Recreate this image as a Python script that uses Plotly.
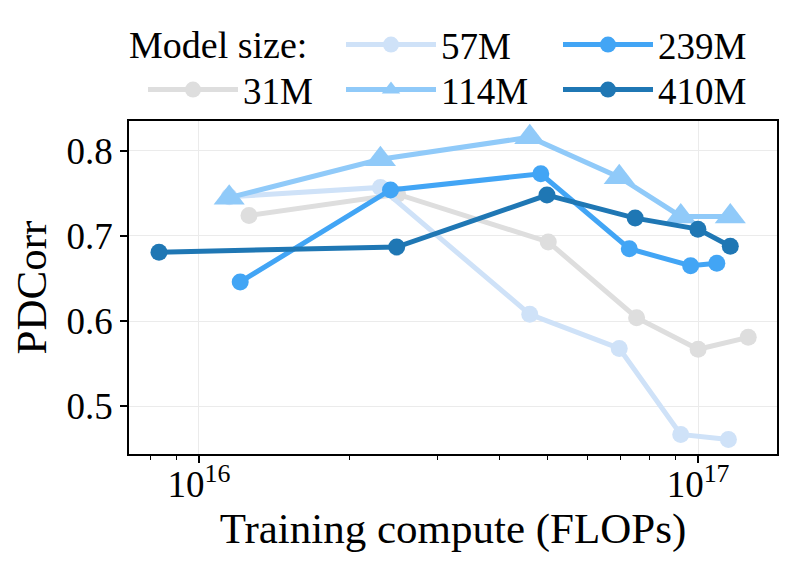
import plotly.graph_objects as go

# training compute (FLOPs) and PDCorr per model size
model_sizes = ["31M", "57M", "114M", "239M", "410M"]

flops_31m = [1.26e16, 2.50e16, 5.01e16, 7.53e16, 1.00e17, 1.26e17]
pdcorr_31m = [0.724, 0.749, 0.693, 0.604, 0.567, 0.581]

flops_57m = [1.15e16, 2.31e16, 4.60e16, 6.95e16, 9.23e16, 1.15e17]
pdcorr_57m = [0.746, 0.757, 0.608, 0.568, 0.467, 0.461]

flops_114m = [1.15e16, 2.31e16, 4.60e16, 6.95e16, 9.23e16, 1.16e17]
pdcorr_114m = [0.745, 0.790, 0.816, 0.769, 0.723, 0.723]

flops_239m = [1.21e16, 2.42e16, 4.84e16, 7.28e16, 9.66e16, 1.09e17]
pdcorr_239m = [0.646, 0.754, 0.773, 0.685, 0.665, 0.668]

flops_410m = [8.32e15, 2.49e16, 4.98e16, 7.48e16, 9.99e16, 1.16e17]
pdcorr_410m = [0.681, 0.687, 0.748, 0.721, 0.708, 0.688]

x_tickvals = [1e16, 1e17]
x_ticktext = ["10<sup>16</sup>", "10<sup>17</sup>"]
y_tickvals = [0.5, 0.6, 0.7, 0.8]

FONT = "Liberation Serif"

series = [
    # name, x, y, color, symbol, marker size, legend
    ("31M", flops_31m, pdcorr_31m, "#dedede", "circle", 17, "legend3"),
    ("57M", flops_57m, pdcorr_57m, "#cfe2f8", "circle", 17, "legend"),
    ("114M", flops_114m, pdcorr_114m, "#90caf9", "triangle-up", 27, "legend2"),
    ("239M", flops_239m, pdcorr_239m, "#42a5f5", "circle", 17, "legend"),
    ("410M", flops_410m, pdcorr_410m, "#1f77b4", "circle", 17, "legend2"),
]

fig = go.Figure()
for name, xs, ys, color, symbol, msize, leg in series:
    fig.add_trace(go.Scatter(
        x=xs, y=ys, name=name, mode="lines+markers",
        line=dict(color=color, width=5),
        marker=dict(color=color, symbol=symbol, size=msize, line=dict(width=0)),
        legend=leg,
    ))

# page body adds an 8px offset, so the figure is drawn 8px smaller
OFF = 8
W, H = 793 - OFF, 572 - OFF
plot_l, plot_r, plot_t, plot_b = 129 - OFF, 777 - OFF, 121 - OFF, 454 - OFF


def px_x(p):
    return (p - OFF - plot_l) / (plot_r - plot_l)


def px_y(p):
    return (plot_b - (p - OFF)) / (plot_b - plot_t)


legend_common = dict(
    orientation="h", xanchor="left", yanchor="middle",
    font=dict(family=FONT, size=37, color="black"),
    bgcolor="rgba(0,0,0,0)", itemwidth=90,
    entrywidth=112, entrywidthmode="pixels",
    itemclick=False, itemdoubleclick=False,
)

fig.update_layout(
    width=W, height=H,
    margin=dict(l=plot_l, r=W - plot_r, t=plot_t, b=H - plot_b, autoexpand=False),
    paper_bgcolor="white", plot_bgcolor="white",
    font=dict(family=FONT, size=37, color="black"),
    legend=dict(legend_common, x=px_x(341), y=px_y(45)),
    legend2=dict(legend_common, x=px_x(341), y=px_y(90)),
    legend3=dict(legend_common, x=px_x(143), y=px_y(90)),
    annotations=[dict(
        text="Model size:", xref="paper", yref="paper",
        x=px_x(127), y=px_y(45), xanchor="left", yanchor="middle",
        showarrow=False, font=dict(family=FONT, size=38, color="black"),
    )],
)

fig.update_xaxes(
    type="log", range=[15.860, 17.158],
    tickmode="array", tickvals=x_tickvals, ticktext=x_ticktext,
    ticks="outside", ticklen=7, tickwidth=1.5, tickcolor="black",
    tickfont=dict(family=FONT, size=37, color="black"),
    ticklabelstandoff=-10,
    minor=dict(
        tickvals=[k * 10 ** e for e in (15, 16, 17) for k in range(2, 10)],
        ticks="outside", ticklen=4, tickwidth=1.2, tickcolor="black", showgrid=False,
    ),
    showgrid=True, gridcolor="#ebebeb", gridwidth=1,
    showline=True, linecolor="black", linewidth=1.5, mirror=True,
    title=dict(text="Training compute (FLOPs)", font=dict(family=FONT, size=43), standoff=9),
    automargin=False,
)
fig.update_yaxes(
    range=[0.444, 0.835],
    tickmode="array", tickvals=y_tickvals, ticktext=[f"{v:.1f}" for v in y_tickvals],
    ticks="outside", ticklen=7, tickwidth=1.5, tickcolor="black",
    tickfont=dict(family=FONT, size=37, color="black"),
    showgrid=True, gridcolor="#ebebeb", gridwidth=1,
    showline=True, linecolor="black", linewidth=1.5, mirror=True,
    title=dict(text="PDCorr", font=dict(family=FONT, size=43), standoff=21),
    zeroline=False, automargin=False,
)

fig.write_html("out.html")
